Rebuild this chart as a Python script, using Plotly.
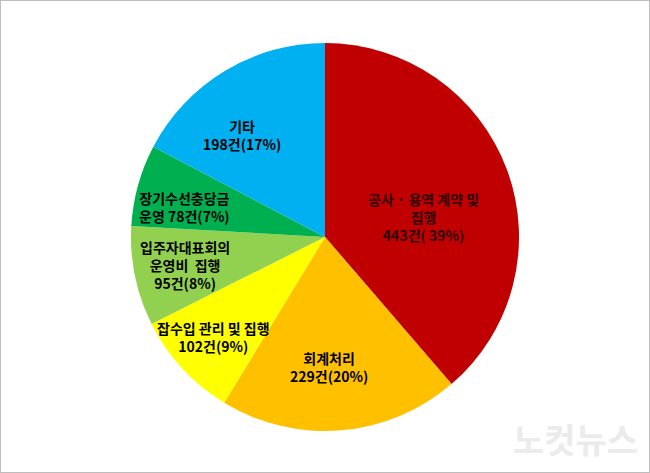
import plotly.graph_objects as go

categories = ['공사·용역 계약 및 집행', '회계처리', '잡수입 관리 및 집행',
              '입주자대표회의 운영비 집행', '장기수선충당금 운영', '기타']
counts = [443, 229, 102, 95, 78, 198]
percents = [39, 20, 9, 8, 7, 17]
label_texts = ['공사 · 용역 계약 및<br>집행<br>443건( 39%)',
               '회계처리<br>229건(20%)',
               '잡수입 관리 및 집행<br>102건(9%)',
               '입주자대표회의<br>운영비  집행<br>95건(8%)',
               '장기수선충당금<br>운영 78건(7%)',
               '기타<br>198건(17%)']
colors = ['#C00000', '#FFC000', '#FFFF00', '#92D050', '#00B050', '#00B0F0']

W, H = 650, 473

fig = go.Figure(go.Pie(
    labels=categories,
    values=counts,
    sort=False,
    direction='clockwise',
    rotation=0,
    marker=dict(colors=colors, line=dict(width=0)),
    textinfo='none',
    hoverinfo='label+value',
    showlegend=False,
    domain=dict(x=[131 / W, 519 / W], y=[(H - 431) / H, (H - 43) / H]),
))

# label centres in pixels
label_pos = [(423, 217), (329, 367), (213, 337), (185, 265), (184, 207), (242, 135)]
label_colors = ['#2e0000', '#000000', '#000000', '#000000', '#000000', '#000000']
for txt, (px, py), c in zip(label_texts, label_pos, label_colors):
    fig.add_annotation(x=px / W, y=1 - py / H, xref='paper', yref='paper',
                       text='<b>' + txt + '</b>', showarrow=False,
                       font=dict(family='Noto Sans CJK KR', size=14, color=c),
                       align='center', xanchor='center', yanchor='middle')

# watermark
fig.add_annotation(x=575 / W, y=1 - 438 / H, xref='paper', yref='paper',
                   text='<b>노컷뉴스</b>', showarrow=False,
                   font=dict(family='Noto Sans CJK KR', size=34, color='#ebebeb'),
                   xanchor='center', yanchor='middle')

fig.add_shape(type='rect', xref='paper', yref='paper', x0=0, y0=0, x1=1, y1=1,
              line=dict(color='#bdbdbd', width=2))

fig.update_layout(width=W, height=H, margin=dict(l=0, r=0, t=0, b=0),
                  paper_bgcolor='white', plot_bgcolor='white')
fig.write_html("out.html", config={'displayModeBar': False},
               post_script="document.body.style.margin='0';")
